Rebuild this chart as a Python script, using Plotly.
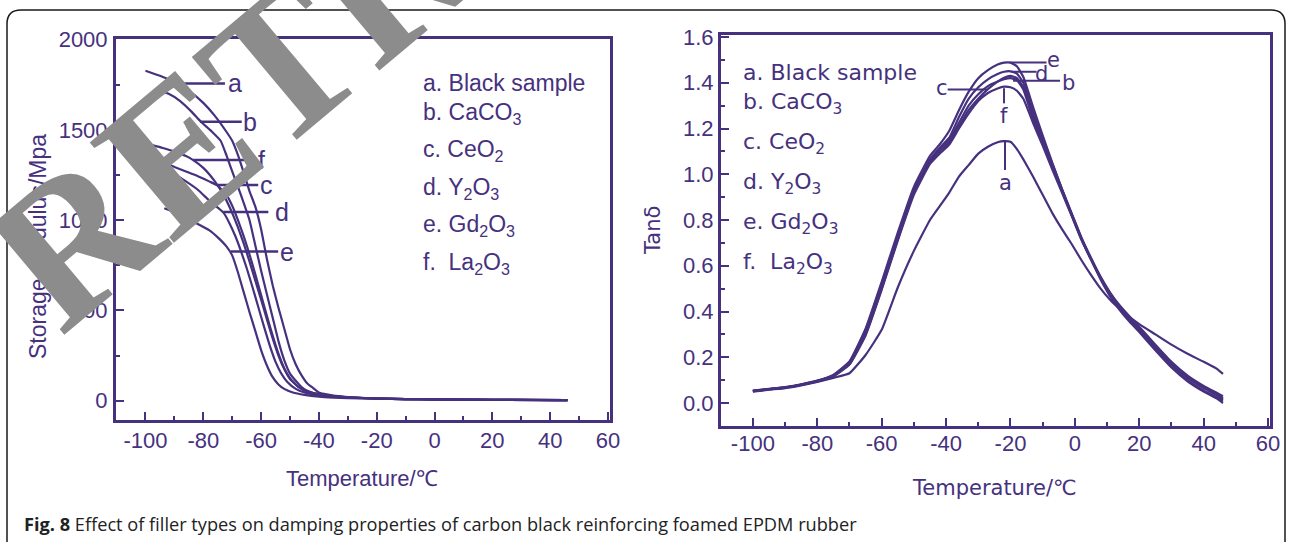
import plotly.graph_objects as go

W, H = 1292, 542
PURPLE = '#46317e'

# ---------------- Storage modulus (left panel) ----------------
a_T = [-100, -95, -90, -85, -80, -76, -72, -70, -68, -66, -64, -62, -60, -58, -56, -54, -52, -50, -48, -46, -44, -42, -40, -35, -30, -25, -20, -10, 0, 10, 20, 30, 40, 46]
a_E = [1828, 1800, 1765, 1718, 1650, 1578, 1490, 1440, 1360, 1262, 1160, 1075, 950, 785, 640, 515, 400, 285, 200, 140, 95, 70, 45, 28, 20, 15, 12, 9, 7, 6, 5, 4, 3, 3]

b_T = [-96, -92, -88, -84, -81, -77, -74, -72, -70, -68, -66, -64, -62, -60, -58, -56, -54, -52, -50, -48, -46, -44, -40, -35, -30, -20, -10, 0, 20, 46]
b_E = [1721, 1700, 1660, 1600, 1548, 1490, 1440, 1360, 1270, 1185, 1095, 1000, 860, 720, 590, 460, 330, 225, 150, 110, 75, 55, 35, 25, 18, 12, 9, 7, 5, 3]

c_T = [-98, -94, -90, -86, -82, -78, -75, -72, -70, -68, -66, -64, -62, -60, -58, -56, -54, -52, -50, -47, -44, -40, -35, -30, -20, -10, 0, 20, 46]
c_E = [1340, 1320, 1295, 1270, 1245, 1215, 1192, 1140, 1080, 1000, 910, 810, 700, 585, 470, 360, 260, 180, 125, 75, 50, 35, 24, 18, 12, 9, 7, 5, 3]

d_T = [-98, -94, -90, -86, -82, -78, -75, -73, -71, -69, -67, -65, -63, -61, -59, -57, -55, -53, -51, -48, -45, -41, -36, -30, -20, -10, 0, 20, 46]
d_E = [1306, 1285, 1255, 1215, 1170, 1110, 1070, 1042, 985, 915, 830, 735, 630, 520, 410, 305, 215, 150, 105, 65, 45, 32, 23, 17, 12, 9, 7, 5, 3]

e_T = [-93.5, -90, -86, -82, -78, -75, -72, -70, -68, -66, -64, -62, -60, -58, -56, -54, -52, -49, -45, -40, -35, -30, -20, -10, 0, 20, 46]
e_E = [1066, 1045, 1015, 980, 945, 905, 855, 805, 710, 600, 490, 385, 280, 195, 130, 90, 65, 45, 32, 22, 17, 14, 11, 8, 6, 4, 3]

f_T = [-98, -94, -90, -86, -83.5, -80, -76, -73, -70, -68, -66, -64, -62, -60, -58, -56, -54, -52, -50, -47, -44, -40, -35, -30, -20, -10, 0, 20, 46]
f_E = [1417, 1400, 1380, 1355, 1333, 1290, 1215, 1140, 1040, 960, 870, 770, 665, 560, 450, 345, 250, 175, 120, 75, 50, 35, 25, 18, 12, 9, 7, 5, 3]

left_xticks = [-100, -80, -60, -40, -20, 0, 20, 40, 60]
left_yticks = [0, 500, 1000, 1500, 2000]

# label markers (letter, level, line start, line end, letter position)
left_labels = [
    ("a", 1758, -89.8, -72.5, -69.0),
    ("b", 1546, -81.1, -66.7, -63.9),
    ("f", 1333, -83.5, -63.3, -59.8),
    ("c", 1195, -75.0, -61.0, -58.1),
    ("d", 1045, -73.0, -57.5, -52.7),
    ("e", 826, -70.5, -54.1, -51.2),
]

legend_texts = [
    "a. Black sample",
    "b. CaCO<sub>3</sub>",
    "c. CeO<sub>2</sub>",
    "d. Y<sub>2</sub>O<sub>3</sub>",
    "e. Gd<sub>2</sub>O<sub>3</sub>",
    "f.\u00a0 La<sub>2</sub>O<sub>3</sub>",
]

# ---------------- Tan delta (right panel) ----------------
tan_T = [-100, -95, -90, -85, -80, -75, -70, -65, -60, -55, -50, -45, -42, -39, -36, -33, -30, -27, -24, -22, -20,
         -18, -16, -13, -10, -7, -4, -1, 2, 5, 8, 11, 14, 17, 20, 25, 30, 35, 40, 44, 46]
tan_a = [0.050, 0.058, 0.065, 0.077, 0.092, 0.110, 0.130, 0.210, 0.320, 0.505, 0.665, 0.800, 0.860, 0.920, 0.990, 1.040, 1.090, 1.120, 1.140, 1.145, 1.142,
         1.110, 1.065, 0.990, 0.910, 0.830, 0.760, 0.695, 0.625, 0.560, 0.500, 0.450, 0.410, 0.375, 0.345, 0.300, 0.255, 0.215, 0.180, 0.150, 0.127]
tan_b = [0.052, 0.060, 0.067, 0.080, 0.095, 0.118, 0.170, 0.300, 0.500, 0.715, 0.920, 1.060, 1.110, 1.150, 1.225, 1.300, 1.350, 1.385, 1.405, 1.415, 1.420,
         1.412, 1.370, 1.240, 1.140, 1.030, 0.925, 0.822, 0.718, 0.630, 0.545, 0.475, 0.420, 0.370, 0.325, 0.245, 0.170, 0.110, 0.065, 0.035, 0.015]
tan_c = [0.052, 0.060, 0.068, 0.081, 0.097, 0.122, 0.180, 0.320, 0.520, 0.735, 0.930, 1.055, 1.100, 1.140, 1.210, 1.280, 1.330, 1.372, 1.405, 1.422, 1.430,
         1.420, 1.380, 1.255, 1.150, 1.040, 0.930, 0.825, 0.720, 0.628, 0.540, 0.465, 0.405, 0.355, 0.310, 0.230, 0.155, 0.095, 0.050, 0.020, 0.000]
tan_d = [0.053, 0.061, 0.068, 0.080, 0.096, 0.120, 0.175, 0.310, 0.510, 0.725, 0.925, 1.065, 1.115, 1.160, 1.250, 1.330, 1.380, 1.415, 1.438, 1.448, 1.450,
         1.440, 1.400, 1.275, 1.160, 1.045, 0.935, 0.830, 0.725, 0.635, 0.552, 0.482, 0.425, 0.378, 0.333, 0.255, 0.180, 0.120, 0.075, 0.045, 0.030]
tan_e = [0.054, 0.062, 0.070, 0.082, 0.098, 0.123, 0.182, 0.325, 0.530, 0.745, 0.945, 1.080, 1.130, 1.190, 1.280, 1.360, 1.420, 1.455, 1.480, 1.488, 1.488,
         1.472, 1.425, 1.295, 1.170, 1.050, 0.935, 0.825, 0.720, 0.628, 0.545, 0.472, 0.412, 0.362, 0.318, 0.235, 0.160, 0.100, 0.055, 0.025, 0.010]
tan_f = [0.052, 0.060, 0.067, 0.079, 0.094, 0.116, 0.168, 0.295, 0.495, 0.710, 0.910, 1.045, 1.090, 1.130, 1.200, 1.265, 1.320, 1.355, 1.375, 1.383, 1.380,
         1.365, 1.330, 1.225, 1.125, 1.020, 0.920, 0.818, 0.715, 0.628, 0.548, 0.478, 0.422, 0.372, 0.328, 0.250, 0.175, 0.115, 0.070, 0.040, 0.022]

right_xticks = [-100, -80, -60, -40, -20, 0, 20, 40, 60]
right_yticks = [0.0, 0.2, 0.4, 0.6, 0.8, 1.0, 1.2, 1.4, 1.6]

# horizontal markers: (letter, level, x start, x end, letter x, letter y)
right_hlabels = [
    ("e", 1.488, -20.2, -8.8, -6.6, 1.500),
    ("d", 1.448, -19.7, -11.9, -10.3, 1.440),
    ("b", 1.409, -19.2, -4.6, -2.0, 1.398),
    ("c", 1.371, -39.5, -27.4, -41.2, 1.375),
]
# vertical markers: (letter, x, y start, y end, letter y)
right_vlabels = [
    ("f", -22.0, 1.376, 1.310, 1.255),
    ("a", -21.7, 1.142, 1.019, 0.962),
]

caption_bold = "Fig. 8"
caption_text = " Effect of filler types on damping properties of carbon black reinforcing foamed EPDM rubber"


def px(x):
    return x / W


def py(y):
    return 1 - y / H


def hyphen_labels(vals, fmt="{:g}"):
    return [fmt.format(v).replace("\u2212", "-") for v in vals]


fig = go.Figure()

line_style = dict(color=PURPLE, width=2.2, shape='spline', smoothing=0.4)
for T, E in [(a_T, a_E), (b_T, b_E), (c_T, c_E), (d_T, d_E), (e_T, e_E), (f_T, f_E)]:
    fig.add_trace(go.Scatter(x=T, y=E, mode='lines', line=line_style, xaxis='x', yaxis='y',
                             showlegend=False, hoverinfo='skip'))
for vals in [tan_a, tan_b, tan_c, tan_d, tan_e, tan_f]:
    fig.add_trace(go.Scatter(x=tan_T, y=vals, mode='lines', line=line_style, xaxis='x2', yaxis='y2',
                             showlegend=False, hoverinfo='skip'))

tickfont = dict(family='Liberation Sans, Arial, sans-serif', size=22, color=PURPLE)
common_axis = dict(showline=True, linecolor=PURPLE, linewidth=3, mirror=True, showgrid=False, zeroline=False,
                   ticks='inside', ticklen=8, tickwidth=2, tickcolor=PURPLE, tickfont=tickfont,
                   tickmode='array', fixedrange=True)


def minor(dt, t0):
    return dict(tickmode='linear', dtick=dt, tick0=t0, ticklen=4, tickwidth=2, tickcolor=PURPLE, ticks='inside')


fig.update_layout(
    width=W, height=H, margin=dict(l=0, r=0, t=0, b=0, autoexpand=False),
    paper_bgcolor='white', plot_bgcolor='white',
    xaxis=dict(domain=[px(116), px(610)], range=[-110.2, 60.7], anchor='y',
               tickvals=left_xticks, ticktext=hyphen_labels(left_xticks), ticklabelstandoff=-1,
               minor=minor(10, -100), **common_axis),
    yaxis=dict(domain=[py(420), py(39)], range=[-107.2, 2003.9], anchor='x',
               tickvals=left_yticks, ticktext=hyphen_labels(left_yticks), ticklabelstandoff=1,
               minor=minor(250, 0), **common_axis),
    xaxis2=dict(domain=[px(721), px(1270)], range=[-109.9, 60.6], anchor='y2',
                tickvals=right_xticks, ticktext=hyphen_labels(right_xticks), ticklabelstandoff=-4,
                minor=minor(10, -100), **common_axis),
    yaxis2=dict(domain=[py(426), py(35)], range=[-0.1005, 1.6087], anchor='x2',
                tickvals=right_yticks, ticktext=hyphen_labels(right_yticks, "{:.1f}"), ticklabelstandoff=0,
                minor=minor(0.1, 0), **common_axis),
)

shapes = []
annotations = []

# left marker lines and letters
for letter, lvl, x0, x1, lx in left_labels:
    shapes.append(dict(type='line', xref='x', yref='y', x0=x0, x1=x1, y0=lvl, y1=lvl,
                       line=dict(color=PURPLE, width=2.5)))
    annotations.append(dict(xref='x', yref='y', x=lx, y=lvl, text=letter, showarrow=False,
                            xanchor='center', yanchor='middle',
                            font=dict(family='Liberation Sans, Arial', size=25, color=PURPLE)))

# right marker lines and letters
for letter, lvl, x0, x1, lx, ly in right_hlabels:
    shapes.append(dict(type='line', xref='x2', yref='y2', x0=x0, x1=x1, y0=lvl, y1=lvl,
                       line=dict(color=PURPLE, width=2)))
    annotations.append(dict(xref='x2', yref='y2', x=lx, y=ly, text=letter, showarrow=False,
                            xanchor='center', yanchor='middle',
                            font=dict(family='DejaVu Sans, sans-serif', size=21, color=PURPLE)))
for letter, xv, y0, y1, ly in right_vlabels:
    shapes.append(dict(type='line', xref='x2', yref='y2', x0=xv, x1=xv, y0=y0, y1=y1,
                       line=dict(color=PURPLE, width=2)))
    annotations.append(dict(xref='x2', yref='y2', x=xv, y=ly, text=letter, showarrow=False,
                            xanchor='center', yanchor='middle',
                            font=dict(family='DejaVu Sans, sans-serif', size=21, color=PURPLE)))

# legends (text blocks): pixel y of the bottom of each text box
left_rows = [98, 130, 167, 205, 242, 280]
right_rows = [87, 120, 160, 200, 240, 280]
for txt, yl, yr in zip(legend_texts, left_rows, right_rows):
    annotations.append(dict(xref='paper', yref='paper', x=px(421), y=py(yl), text=txt, showarrow=False,
                            xanchor='left', yanchor='bottom',
                            font=dict(family='Liberation Sans, Arial', size=23, color=PURPLE)))
    annotations.append(dict(xref='paper', yref='paper', x=px(741), y=py(yr), text=txt, showarrow=False,
                            xanchor='left', yanchor='bottom',
                            font=dict(family='DejaVu Sans, sans-serif', size=22, color=PURPLE)))

# axis titles
annotations += [
    dict(xref='paper', yref='paper', x=px(38), y=py(247), text='Storage modulus/Mpa', textangle=-90,
         showarrow=False, xanchor='center', yanchor='middle',
         font=dict(family='Liberation Sans, Arial', size=23, color=PURPLE)),
    dict(xref='paper', yref='paper', x=px(653), y=py(230), text='Tanδ', textangle=-90,
         showarrow=False, xanchor='center', yanchor='middle',
         font=dict(family='DejaVu Sans, sans-serif', size=21, color=PURPLE)),
    dict(xref='paper', yref='paper', x=px(362), y=py(478), text='Temperature/℃',
         showarrow=False, xanchor='center', yanchor='middle',
         font=dict(family='Liberation Sans, Arial', size=22, color=PURPLE)),
    dict(xref='paper', yref='paper', x=px(994), y=py(488), text='Temperature/℃',
         showarrow=False, xanchor='center', yanchor='middle',
         font=dict(family='DejaVu Sans, sans-serif', size=21, color=PURPLE)),
    dict(xref='paper', yref='paper', x=px(22), y=py(524), text='<b>' + caption_bold + '</b>' + caption_text,
         showarrow=False, xanchor='left', yanchor='middle',
         font=dict(family='Open Sans, sans-serif', size=18.2, color='#222222')),
]

# outer rounded frame
r = 14
x0b, x1b, ytop, ybot = 7, 1285, 10, 560
path = (f"M {px(x0b)},{py(ybot)} L {px(x0b)},{py(ytop + r)} Q {px(x0b)},{py(ytop)} {px(x0b + r)},{py(ytop)} "
        f"L {px(x1b - r)},{py(ytop)} Q {px(x1b)},{py(ytop)} {px(x1b)},{py(ytop + r)} L {px(x1b)},{py(ybot)}")
shapes.append(dict(type='path', xref='paper', yref='paper', path=path, line=dict(color='#1a1a1a', width=1.5)))

# watermark
annotations.append(dict(xref='paper', yref='paper', x=px(498), y=py(-118), text='<b>RETRACTED</b>',
                        textangle=-40, showarrow=False, xanchor='center', yanchor='middle',
                        font=dict(family='Liberation Serif, Times New Roman, serif', size=200, color='#8c8c8c')))

fig.update_layout(shapes=shapes, annotations=annotations)
fig.write_html("out.html")
